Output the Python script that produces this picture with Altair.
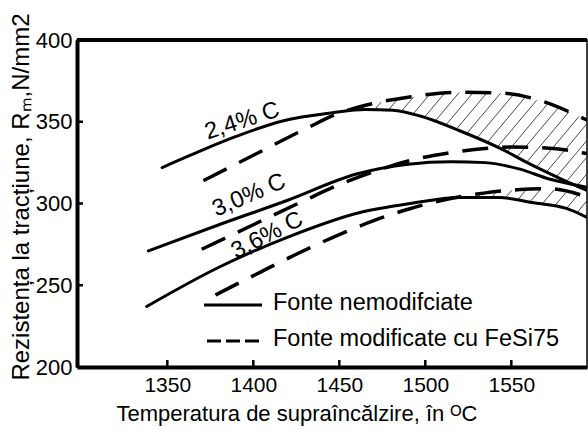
import altair as alt
import numpy as np
import pandas as pd

# Tensile strength Rm (N/mm2) against superheating temperature (°C)
# Unmodified cast irons (solid curves)
t_24_nemod = [1347, 1370, 1390, 1417, 1446, 1465, 1481, 1497, 1520, 1543, 1563, 1580, 1594]
rm_24_nemod = [322, 332.5, 341, 350.5, 355.5, 357.5, 357, 353.5, 344.5, 334, 323, 314.5, 308]
t_30_nemod = [1339, 1380, 1420, 1460, 1490, 1515, 1535, 1555, 1572, 1594]
rm_30_nemod = [271, 287, 302, 318, 324, 325.5, 325, 321, 315, 310]
t_36_nemod = [1338, 1380, 1419, 1462, 1491, 1520, 1543, 1562, 1582, 1594]
rm_36_nemod = [237, 261, 279, 294.5, 300, 303.7, 303.7, 300.6, 297, 291.5]

# Cast irons modified with FeSi75 (dashed curves)
t_24_mod = [1371, 1400, 1431, 1448, 1469, 1490, 1518, 1545, 1568, 1588, 1594]
rm_24_mod = [314, 329.5, 346, 354.5, 361, 365, 368, 367.5, 362.5, 354, 351]
t_30_mod = [1370, 1400, 1430, 1451, 1470, 1490, 1514, 1533, 1550, 1570, 1594]
rm_30_mod = [272, 287, 302, 312, 319.5, 326, 331, 333.5, 334.5, 334, 330.5]
t_36_mod = [1378, 1405, 1428, 1450, 1470, 1490, 1510, 1535, 1555, 1572, 1594]
rm_36_mod = [244, 258.5, 270.5, 281, 289.5, 296.5, 302, 306.5, 308.5, 309, 304]

carbon_labels = ["2,4% C", "3,0% C", "3,6% C"]
label_t = [1393.5, 1397.5, 1408]
label_rm = [350.5, 305, 280.5]
label_angles = [342, 337, 333]

legend_labels = ["Fonte nemodifciate", "Fonte modificate cu FeSi75"]

x_ticks = [1350, 1400, 1450, 1500, 1550]
y_ticks = [200, 250, 300, 350, 400]
x_domain = [1297.5, 1594]
y_domain = [200, 400]

W, H = 510, 327
FONT = "Liberation Sans"


def curve_frame(pairs):
    rows = []
    for name, ts, rs in pairs:
        for t, r in zip(ts, rs):
            rows.append({"serie": name, "t": t, "r": r})
    return pd.DataFrame(rows)


solid = curve_frame([("2,4", t_24_nemod, rm_24_nemod),
                     ("3,0", t_30_nemod, rm_30_nemod),
                     ("3,6", t_36_nemod, rm_36_nemod)])
dashed = curve_frame([("2,4", t_24_mod, rm_24_mod),
                      ("3,0", t_30_mod, rm_30_mod),
                      ("3,6", t_36_mod, rm_36_mod)])

# Diagonal hatching of the band where the modified iron is stronger
sx = W / (x_domain[1] - x_domain[0])
sy = H / (y_domain[1] - y_domain[0])
k = np.tan(np.radians(50)) * sx / sy
dc = k * 14 / sx


def hatch_segments(t_hi, r_hi, t_lo, r_lo):
    g = np.linspace(x_domain[0], x_domain[1], 4000)
    hi = np.interp(g, t_hi, r_hi, left=np.nan, right=np.nan)
    lo = np.interp(g, t_lo, r_lo, left=np.nan, right=np.nan)
    ok = hi > lo
    c_min = np.nanmin((lo - k * g)[ok])
    c_max = np.nanmax((hi - k * g)[ok])
    segs = []
    for c in np.arange(c_min, c_max, dc):
        y = k * g + c
        idx = np.flatnonzero((y >= lo) & (y <= hi))
        if idx.size < 2:
            continue
        br = np.flatnonzero(np.diff(idx) > 1)
        starts = np.r_[idx[0], idx[br + 1]]
        ends = np.r_[idx[br], idx[-1]]
        for s, e in zip(starts, ends):
            if e > s:
                segs.append((g[s], y[s], g[e], y[e]))
    return pd.DataFrame(segs, columns=["t", "r", "t2", "r2"])


hatch = pd.concat([hatch_segments(t_24_mod, rm_24_mod, t_24_nemod, rm_24_nemod),
                   hatch_segments(t_36_mod, rm_36_mod, t_36_nemod, rm_36_nemod)],
                  ignore_index=True)

xscale = alt.Scale(domain=x_domain, nice=False, zero=False)
yscale = alt.Scale(domain=y_domain, nice=False, zero=False)

xaxis = alt.Axis(values=x_ticks, format="d", grid=False, tickSize=0, labelPadding=7,
                 labelFont=FONT, labelFontSize=21, labelColor="black",
                 domainColor="black", domainWidth=4, labelFlush=False,
                 title="Temperatura de supraîncălzire, în ᴼC",
                 titleFont=FONT, titleFontSize=22, titleFontWeight="normal",
                 titleColor="black", titleX=219.5, titleY=53,
                 titleAlign="center", titleBaseline="alphabetic")
yaxis = alt.Axis(values=y_ticks, format="d", grid=False, tickSize=0, labelPadding=5,
                 labelFont=FONT, labelFontSize=22, labelColor="black",
                 domainColor="black", domainWidth=4, labelFlush=False,
                 title="Rezistența la tracțiune, Rₘ,N/mm2",
                 titleFont=FONT, titleFontSize=24, titleFontWeight="normal",
                 titleColor="black", titleX=-49, titleY=156.5, titleAngle=270,
                 titleAlign="center", titleBaseline="alphabetic")

X = alt.X("t:Q", scale=xscale, axis=xaxis)
Y = alt.Y("r:Q", scale=yscale, axis=yaxis)

hatch_layer = alt.Chart(hatch).mark_rule(color="#333", strokeWidth=0.9, clip=True).encode(
    x=X, y=Y, x2="t2:Q", y2="r2:Q")

solid_layer = alt.Chart(solid).mark_line(
    color="black", strokeWidth=3, interpolate="monotone", clip=True,
    strokeCap="round").encode(x=X, y=Y, detail="serie:N", order="t:Q")

dashed_layer = alt.Chart(dashed).mark_line(
    color="black", strokeWidth=3.5, strokeDash=[26, 14], interpolate="monotone",
    clip=True).encode(x=X, y=Y, detail="serie:N", order="t:Q")

layers = [hatch_layer, dashed_layer, solid_layer]

for lbl, t, r, ang in zip(carbon_labels, label_t, label_rm, label_angles):
    layers.append(
        alt.Chart(pd.DataFrame({"t": [t], "r": [r], "lbl": [lbl]})).mark_text(
            font=FONT, fontSize=23.5, color="black", angle=ang,
            align="center", baseline="middle").encode(x=X, y=Y, text="lbl:N"))

# Legend drawn inside the plot area
legend_styles = [dict(strokeWidth=3), dict(strokeWidth=3, strokeDash=[14, 5])]
for i, (lbl, sty) in enumerate(zip(legend_labels, legend_styles)):
    ypos = 265 + 36 * i
    src = alt.Data(values=[{"lbl": lbl}])
    layers.append(alt.Chart(src).mark_rule(color="black", **sty).encode(
        x=alt.value(127 + 3 * i), x2=alt.value(185), y=alt.value(ypos)))
    layers.append(alt.Chart(src).mark_text(
        font=FONT, fontSize=23.5, color="black", align="left",
        baseline="middle").encode(x=alt.value(196), y=alt.value(ypos - 2),
                                  text="lbl:N"))

# Inward tick marks
layers.append(alt.Chart(pd.DataFrame({"t": x_ticks})).mark_rule(
    color="black", strokeWidth=2.5).encode(
    x=X, y=alt.value(H), y2=alt.value(H - 7)))
layers.append(alt.Chart(pd.DataFrame({"r": y_ticks[1:-1]})).mark_rule(
    color="black", strokeWidth=2.5).encode(
    y=Y, x=alt.value(0), x2=alt.value(6)))

# Heavy top frame line
layers.append(alt.Chart(alt.Data(values=[{}])).mark_rule(
    color="black", strokeWidth=4).encode(
    x=alt.value(0), x2=alt.value(W), y=alt.value(0)))

chart = alt.layer(*layers).properties(
    width=W, height=H,
    autosize=alt.AutoSizeParams(type="none"),
    padding={"left": 77, "top": 40, "right": 1, "bottom": 62},
    background="white",
).configure_view(stroke="black", strokeWidth=1.5)

chart.save("out.html", embed_options={"renderer": "svg", "actions": False})
